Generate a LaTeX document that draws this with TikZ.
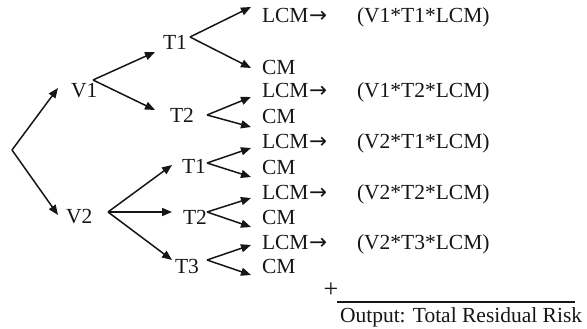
\documentclass[tikz,border=0pt]{standalone}
\usepackage{fontspec}
\setmainfont{Liberation Serif}
\newfontfamily\arrfont{DejaVu Sans}
\usetikzlibrary{arrows.meta}
\definecolor{ink}{HTML}{161616}
\newcommand{\rarr}{{\arrfont\kern0.5pt→}}
\tikzset{
  lbl/.style={anchor=base west, inner sep=0pt, outer sep=0pt, text=ink,
    font=\fontsize{21.5}{25}\selectfont},
  arr/.style={draw=ink, line width=1.5pt, -{Triangle[length=10pt,width=8pt]}},
}
\begin{document}
\begin{tikzpicture}[x=1pt,y=-1pt]
\useasboundingbox (0,0) rectangle (587,329);
% text nodes
\node[lbl] (V1) at (71,98) {V1};
\node[lbl] (V2) at (66,223) {V2};
\node[lbl] (T1a) at (163,50) {T1};
\node[lbl] (T2a) at (170,123) {T2};
\node[lbl] (T1b) at (182,173) {T1};
\node[lbl] (T2b) at (183,224) {T2};
\node[lbl] (T3b) at (175,273) {T3};
\node[lbl] (L1) at (262,23) {LCM\rarr};
\node[lbl] (C1) at (262,75) {CM};
\node[lbl] (L2) at (262,98) {LCM\rarr};
\node[lbl] (C2) at (262,124) {CM};
\node[lbl] (L3) at (262,149) {LCM\rarr};
\node[lbl] (C3) at (262,174) {CM};
\node[lbl] (L4) at (262,199) {LCM\rarr};
\node[lbl] (C4) at (262,224) {CM};
\node[lbl] (L5) at (262,249) {LCM\rarr};
\node[lbl] (C5) at (262,273) {CM};
\node[lbl] (F1) at (357,23) {(V1*T1*LCM)};
\node[lbl] (F2) at (357,98) {(V1*T2*LCM)};
\node[lbl] (F3) at (357,149) {(V2*T1*LCM)};
\node[lbl] (F4) at (357,199) {(V2*T2*LCM)};
\node[lbl] (F5) at (357,249) {(V2*T3*LCM)};
\node[lbl, font=\fontsize{26}{30}\selectfont] (plus) at (323.5,297) {+};
\node[lbl] (out) at (340,322) {Output: Total Residual Risk};
% branch points and tips
\coordinate (r) at (12,150);
\coordinate (tV1) at (58,88);
\coordinate (tV2) at (58,215);
\coordinate (bV1) at (93,80);
\coordinate (tT1a) at (155,52);
\coordinate (tT2a) at (155,110);
\coordinate (bV2) at (108,212);
\coordinate (tT1b) at (172,165);
\coordinate (tT2b) at (172,212);
\coordinate (tT3b) at (172,260);
\coordinate (bT1a) at (190,37);
\coordinate (bT2a) at (207,115);
\coordinate (bT1b) at (207,163);
\coordinate (bT2b) at (207,212);
\coordinate (bT3b) at (207,260);
\coordinate (tL1) at (251,7);
\coordinate (tC1) at (251,68);
\coordinate (tL2) at (251,97);
\coordinate (tC2) at (251,127);
\coordinate (tL3) at (251,148);
\coordinate (tC3) at (251,177);
\coordinate (tL4) at (251,198);
\coordinate (tC4) at (251,227);
\coordinate (tL5) at (251,245);
\coordinate (tC5) at (251,275);
\coordinate (s1) at (337,302);
\coordinate (s2) at (575,302);
% connectors
\draw[arr] (r) -- (tV1);
\draw[arr] (r) -- (tV2);
\draw[arr] (bV1) -- (tT1a);
\draw[arr] (bV1) -- (tT2a);
\draw[arr] (bV2) -- (tT1b);
\draw[arr] (bV2) -- (tT2b);
\draw[arr] (bV2) -- (tT3b);
\draw[arr] (bT1a) -- (tL1);
\draw[arr] (bT1a) -- (tC1);
\draw[arr] (bT2a) -- (tL2);
\draw[arr] (bT2a) -- (tC2);
\draw[arr] (bT1b) -- (tL3);
\draw[arr] (bT1b) -- (tC3);
\draw[arr] (bT2b) -- (tL4);
\draw[arr] (bT2b) -- (tC4);
\draw[arr] (bT3b) -- (tL5);
\draw[arr] (bT3b) -- (tC5);
\draw[draw=ink, line width=1.3pt] (s1) -- (s2);
\end{tikzpicture}
\end{document}
